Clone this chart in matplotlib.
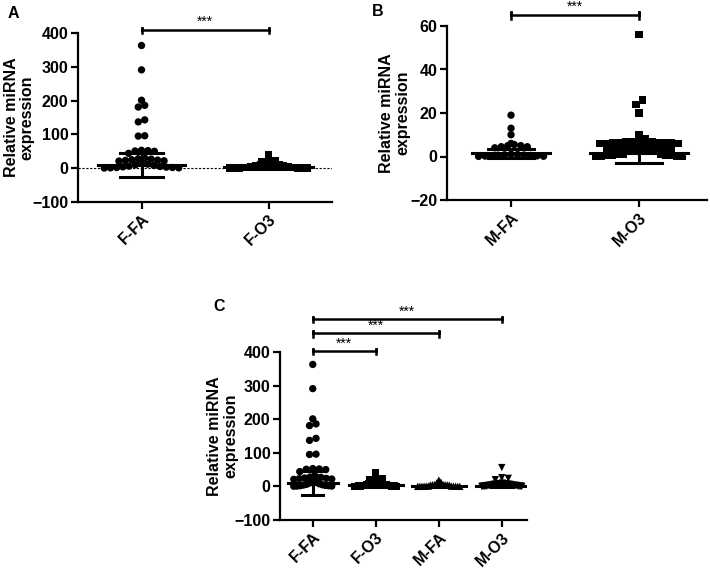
import numpy as np
import matplotlib.pyplot as plt

plt.rcParams['font.family'] = ['Liberation Sans', 'DejaVu Sans']
plt.rcParams['font.weight'] = 'bold'

# values
f_fa = [363, 291, 201, 186, 181, 143, 137, 96, 95, 53, 52, 51, 50, 44,
        30, 28, 27, 25, 24, 23, 22, 21,
        15, 12, 10, 8, 6, 5, 4, 3, 2, 2, 1, 1, 0.5]
f_o3 = [40, 25, 22, 20, 15, 14, 13, 12, 12, 11, 10, 10, 9, 8, 8, 7, 6, 5, 5, 4,
        4, 3, 3, 3, 2, 2, 2, 2, 1, 1, 1, 1, 1, 0.5, 0.5, 0.3, 0.2, 0.1]
m_fa = [19, 13, 10, 6, 5.5, 5, 5, 4.5, 4.5, 4, 1, 0.9, 0.8, 0.7, 0.6, 0.5,
        0.4, 0.3, 0.2, 0.1, 0.05]
m_o3 = [56, 26, 24, 20, 10, 8, 8, 6.8, 6.7, 6.6, 6.5, 6.5, 6.4, 6.3, 6.2, 6.1,
        6, 6, 5.9, 5.8, 5.7, 5.6, 3.5, 3.4, 3.3, 3.2, 3.1, 3, 3, 2.9, 2.8, 2.7,
        2.6, 2.5, 2.4, 1, 0.9, 0.8, 0.7, 0.6, 0.5, 0.4, 0.3, 0.2, 0.1, 0.05]

# mean and sd as drawn
means = {'F-FA': 10, 'F-O3': 3, 'M-FA': 1.4, 'M-O3': 1.6}
sds = {'F-FA': 36, 'F-O3': 6, 'M-FA': 2.2, 'M-O3': 4.4}
values = {'F-FA': f_fa, 'F-O3': f_o3, 'M-FA': m_fa, 'M-O3': m_o3}

W, H = 710, 575
fig = plt.figure(figsize=(W / 100, H / 100), dpi=100)


def add_axes(l, r, t, b):
    return fig.add_axes([l / W, 1 - b / H, (r - l) / W, (b - t) / H])


def rows(vals, px_x, px_y, d, maxw):
    # prism-like scatter: points binned into rows one dot high, rows centred
    vals = np.asarray(vals, dtype=float)
    xs = np.zeros(len(vals))
    bins = np.floor(vals * px_y / d).astype(int)
    for b in np.unique(bins):
        idx = np.where(bins == b)[0]
        idx = idx[np.argsort(-vals[idx], kind='stable')]
        n = len(idx)
        step = d if n < 2 else min(d, maxw / (n - 1))
        offs = (np.arange(n) - (n - 1) / 2) * step
        offs = offs[np.argsort(np.abs(offs) + 1e-3 * (offs < 0), kind='stable')]
        xs[idx] = offs
    return xs / px_x


def style(ax, names, ylim, yticks, xlim):
    ax.set_xlim(*xlim)
    ax.set_ylim(*ylim)
    ax.set_yticks(yticks)
    ax.set_xticks(range(len(names)))
    ax.set_xticklabels(names, rotation=45, ha='right', rotation_mode='anchor',
                       fontsize=11.5, fontweight='bold')
    for lab in ax.get_yticklabels():
        lab.set_fontsize(11.5)
        lab.set_fontweight('bold')
    for s in ['top', 'right']:
        ax.spines[s].set_visible(False)
    for s in ['left', 'bottom']:
        ax.spines[s].set_linewidth(1.6)
    ax.tick_params(width=1.6, length=5, pad=2)
    ax.set_ylabel('Relative miRNA\nexpression', fontsize=11.5, fontweight='bold',
                  linespacing=1.1)


def draw_group(ax, name, pos, mk, px_x, px_y, maxw, half_cap):
    vals = values[name]
    xs = rows(vals, px_x, px_y, 6.5, maxw)
    ax.scatter(pos + xs, vals, marker=mk, s=28, c='black', edgecolors='none',
               zorder=3, clip_on=False)
    m, sd = means[name], sds[name]
    half_mean = (maxw + 12) / 2 / px_x
    ax.plot([pos - half_mean, pos + half_mean], [m, m], color='black', lw=2.2, zorder=4)
    ax.plot([pos, pos], [m - sd, m + sd], color='black', lw=2.2, zorder=4)
    for yy in (m - sd, m + sd):
        ax.plot([pos - half_cap, pos + half_cap], [yy, yy], color='black', lw=2.2, zorder=4)


def sig_bar(ax, x0, x1, y, cap):
    ax.plot([x0, x0, x0, x1, x1, x1], [y - cap, y + cap, y, y, y + cap, y - cap],
            color='black', lw=1.8, clip_on=False, solid_joinstyle='miter')
    ax.text((x0 + x1) / 2, y + cap * 0.2, '***', ha='center', va='bottom',
            fontsize=10, fontweight='normal')


# panel A
axA = add_axes(78, 332, 33, 202)
style(axA, ['F-FA', 'F-O3'], (-100, 400), [-100, 0, 100, 200, 300, 400], (-0.5, 1.5))
axA.axhline(0, color='black', lw=0.8, ls=(0, (2, 1.5)), zorder=1)
for i, (name, mk, mw) in enumerate([('F-FA', 'o', 75), ('F-O3', 's', 78)]):
    draw_group(axA, name, i, mk, 128, 169 / 500, mw, 0.17)
sig_bar(axA, 0, 1, 410, 9)
axA.yaxis.set_label_coords(-0.17, 0.5)
fig.text(8 / W, 1 - 18 / H, 'A', fontsize=11.5, fontweight='bold')

# panel B
axB = add_axes(447, 707, 26, 200)
style(axB, ['M-FA', 'M-O3'], (-20, 60), [-20, 0, 20, 40, 60], (-0.5, 1.53))
for i, (name, mk, mw) in enumerate([('M-FA', 'o', 66), ('M-O3', 's', 86)]):
    draw_group(axB, name, i, mk, 128, 174 / 80, mw, 0.18)
sig_bar(axB, 0, 1, 65, 2)
axB.yaxis.set_label_coords(-0.14, 0.5)
fig.text(372 / W, 1 - 16 / H, 'B', fontsize=11.5, fontweight='bold')

# panel C
axC = add_axes(280, 527, 352, 520)
names_c = ['F-FA', 'F-O3', 'M-FA', 'M-O3']
marks_c = ['o', 's', '^', 'v']
widths_c = [38, 42, 42, 40]
style(axC, names_c, (-100, 400), [-100, 0, 100, 200, 300, 400], (-0.52, 3.4))
for i, (name, mk) in enumerate(zip(names_c, marks_c)):
    draw_group(axC, name, i, mk, 63, 168 / 500, widths_c[i], 0.17)
sig_bar(axC, 0, 1, 403, 10)
sig_bar(axC, 0, 2, 456, 10)
sig_bar(axC, 0, 3, 498, 10)
axC.yaxis.set_label_coords(-0.17, 0.5)
fig.text(213 / W, 1 - 311 / H, 'C', fontsize=11.5, fontweight='bold')

fig.savefig('out.png', dpi=100)
